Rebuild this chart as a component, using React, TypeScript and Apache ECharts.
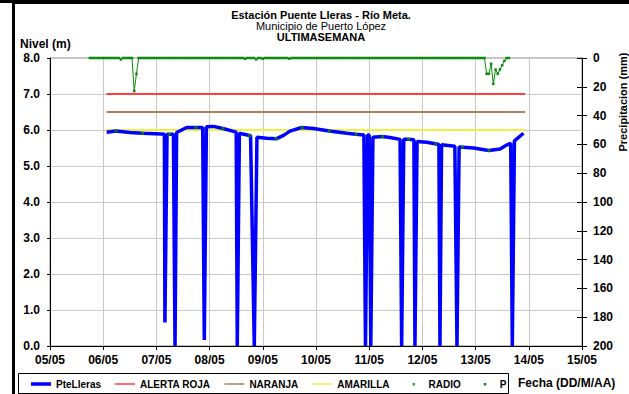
import React, { useEffect, useRef } from "react";
import * as echarts from "echarts";

// ---- data (time in days after 05/05 00:00) ----
const xTickLabels = ["05/05", "06/05", "07/05", "08/05", "09/05", "10/05", "11/05", "12/05", "13/05", "14/05", "15/05"];

const pteLleras: [number, number][] = [
  [1.065, 5.94], [1.24, 5.97], [1.5, 5.93], [1.74, 5.91], [2.1, 5.89], [2.15, 5.88], [2.16, 0.65], [2.2, 5.88],
  [2.32, 5.88], [2.35, 0], [2.38, 5.93], [2.57, 6.07], [2.74, 6.07], [2.87, 6.07], [2.9, 0.17], [2.94, 6.09],
  [3.07, 6.1], [3.25, 6.04], [3.5, 5.94], [3.52, 0], [3.56, 5.91], [3.77, 5.84], [3.84, 0], [3.89, 5.8],
  [4.07, 5.77], [4.26, 5.76], [4.39, 5.85], [4.51, 5.97], [4.73, 6.07], [4.95, 6.04], [5.25, 5.97], [5.58, 5.91],
  [5.75, 5.88], [5.9, 5.86], [5.93, 0], [5.97, 5.86], [6.0, 5.86], [6.03, 0], [6.07, 5.8], [6.25, 5.82],
  [6.39, 5.79], [6.58, 5.74], [6.61, 0], [6.65, 5.74], [6.73, 5.74], [6.84, 5.73], [6.86, 0], [6.9, 5.68],
  [7.08, 5.66], [7.27, 5.61], [7.31, 5.6], [7.33, 0], [7.36, 5.59], [7.61, 5.55], [7.65, 0], [7.69, 5.53],
  [7.96, 5.5], [8.25, 5.43], [8.46, 5.47], [8.58, 5.58], [8.66, 5.63], [8.69, 0], [8.73, 5.7], [8.9, 5.91],
];

const radio: [number, number][] = [
  [1.24, 5.97], [1.74, 5.91], [2.24, 5.88], [2.74, 6.07], [3.25, 6.04], [3.75, 5.84], [4.25, 5.76], [4.74, 6.07],
  [5.25, 5.97], [5.75, 5.88], [6.25, 5.82], [6.74, 5.74], [7.25, 5.61], [7.75, 5.52], [8.25, 5.43],
];

const alertStart = 1.06;
const alertEnd = 8.93;
const alertaRoja: [number, number][] = [[alertStart, 7.0], [alertEnd, 7.0]];
const naranja: [number, number][] = [[alertStart, 6.5], [alertEnd, 6.5]];
const amarilla: [number, number][] = [[alertStart, 6.0], [alertEnd, 6.0]];

// hourly precipitation (mm) starting 05/05 18:00
const pStartDay = 0.75;
const pStepDays = 1 / 24;
const pHourly: number[] = [
  // 05/05 18h-23h
  0, 0, 0, 0, 0, 0,
  // 06/05
  0, 0, 0, 0, 0, 0, 0, 0, 1, 0, 0, 0, 0, 0, 23, 11, 0, 0, 0, 0, 0, 0, 0, 0,
  // 07/05
  0, 0, 0, 0, 0, 0, 0, 0, 0, 0, 0, 0, 0, 0, 0, 0, 0, 0, 0, 0, 0, 0, 0, 0,
  // 08/05
  0, 0, 0, 0, 0, 0, 0, 0, 0, 0, 0, 0, 0, 0, 0, 0, 0.5, 0, 0, 0, 0, 1, 0, 0,
  // 09/05
  0.5, 0, 0, 0, 0, 0, 0, 0, 0, 0, 0, 0, 0.5, 0, 0, 0, 0, 0, 0, 0, 0, 0, 0, 0,
  // 10/05
  0, 0, 0, 0, 0, 0, 0, 0, 0, 0, 0, 0, 0, 0, 0, 0, 0, 0, 0, 0, 0, 0, 0, 0,
  // 11/05
  0, 0, 0, 0, 0, 0, 0, 0, 0, 0, 0, 0, 0, 0, 0, 0, 0, 0, 0, 0, 0, 0, 0, 0,
  // 12/05
  0, 0, 0, 0, 0, 0, 0, 0, 0, 0, 0, 0, 0, 0, 0, 0, 0, 0, 0, 0, 0, 0, 0, 0,
  // 13/05 0h-15h
  0, 0, 0, 0, 0, 11, 11, 4, 18, 8, 11, 8, 5, 2, 0, 0,
];

const FONT = "'Liberation Sans', Arial, sans-serif";
const dotIcon = "path://M0,0h0.01v0.01h-0.01z M9,3h2.5v2.5h-2.5z M20,8h-0.01v-0.01h0.01z";
const thickIcon = "path://M0,0h0.01v0.01h-0.01z M0,2.2h20v3.6h-20z M20,8h-0.01v-0.01h0.01z";
const thinIcon = "path://M0,0h0.01v0.01h-0.01z M0,3.3h20v1.4h-20z M20,8h-0.01v-0.01h0.01z";

export default function App() {
  const ref = useRef<HTMLDivElement>(null);
  useEffect(() => {
    if (!ref.current) return;
    const chart = echarts.init(ref.current, undefined, { renderer: "svg" });
    const pData = pHourly.map((v, i) => [pStartDay + i * pStepDays, v]);
    const green = "#0a8a0a";
    chart.setOption({
      animation: false,
      backgroundColor: "#ffffff",
      textStyle: { fontFamily: FONT },
      title: [
        { text: "Estación Puente Lleras - Río Meta.", left: 316, top: 4, textAlign: "center",
          textStyle: { fontSize: 11, fontWeight: "bold", color: "#000", fontFamily: FONT } },
        { text: "Municipio de Puerto López", left: 316, top: 15, textAlign: "center",
          textStyle: { fontSize: 11, fontWeight: "normal", color: "#000", fontFamily: FONT } },
        { text: "ULTIMASEMANA", left: 316, top: 26, textAlign: "center",
          textStyle: { fontSize: 11, fontWeight: "bold", color: "#000", fontFamily: FONT } },
      ],
      grid: { left: 50, right: 47, top: 58, bottom: 48, show: true, borderColor: "#888", borderWidth: 1, backgroundColor: "transparent" },
      legend: {
        left: 31, top: 379, padding: 0, itemWidth: 20, itemHeight: 8, itemGap: 14, selectedMode: false,
        textStyle: { fontSize: 10, fontWeight: "bold", color: "#000", fontFamily: FONT },
        data: [
          { name: "PteLleras", icon: thickIcon, itemStyle: { color: "#0000ff" } },
          { name: "ALERTA ROJA", icon: thinIcon, itemStyle: { color: "#ff4040" } },
          { name: "NARANJA", icon: thinIcon, itemStyle: { color: "#b08060" } },
          { name: "AMARILLA", icon: thinIcon, itemStyle: { color: "#f0f040" } },
          { name: "RADIO", icon: dotIcon, itemStyle: { color: green } },
          { name: "P", icon: dotIcon, itemStyle: { color: green } },
        ],
      },
      xAxis: {
        type: "value", min: 0, max: 10, interval: 1,
        axisLine: { lineStyle: { color: "#000", width: 1 } },
        axisTick: { show: true, inside: false, length: 4, lineStyle: { color: "#000" } },
        axisLabel: { formatter: (v: number) => xTickLabels[Math.round(v)] ?? "", fontSize: 12, fontWeight: "bold", color: "#000", margin: 8, fontFamily: FONT },
        splitLine: { show: true, lineStyle: { color: "#c8c8c8", width: 1 } },
      },
      yAxis: [
        {
          type: "value", min: 0, max: 8, interval: 1, position: "left",
          axisLine: { show: true, lineStyle: { color: "#000", width: 1 } },
          axisTick: { show: true, inside: false, length: 3, lineStyle: { color: "#000" } },
          axisLabel: { formatter: (v: number) => v.toFixed(1), fontSize: 12, fontWeight: "bold", color: "#000", margin: 10, fontFamily: FONT },
          splitLine: { show: true, lineStyle: { color: "#c8c8c8", width: 1 } },
        },
        {
          type: "value", min: 0, max: 200, interval: 20, position: "right", inverse: true,
          axisLine: { show: true, lineStyle: { color: "#000", width: 1 } },
          axisTick: { show: true, inside: false, length: 5, lineStyle: { color: "#000" } },
          axisLabel: { fontSize: 12, fontWeight: "bold", color: "#000", margin: 11, fontFamily: FONT },
          splitLine: { show: false },
        },
        {
          type: "value", min: 0, max: 200, interval: 20, position: "right", inverse: true,
          axisLine: { show: false },
          axisTick: { show: true, inside: true, length: 5, lineStyle: { color: "#000" } },
          axisLabel: { show: false },
          splitLine: { show: false },
        },
      ],
      graphic: [
        { type: "rect", shape: { x: 13.5, y: 2.5, width: 640, height: 420 }, style: { fill: "none", stroke: "#000", lineWidth: 3 }, silent: true },
        { type: "rect", shape: { x: 0, y: 0, width: 629, height: 3 }, style: { fill: "#000" }, silent: true },
        { type: "rect", shape: { x: 18.5, y: 373.5, width: 490, height: 20 }, style: { fill: "none", stroke: "#000", lineWidth: 1 }, silent: true },
        { type: "text", x: 20, y: 44, style: { text: "Nivel (m)", font: `bold 12px ${FONT}`, fill: "#000", textVerticalAlign: "middle" } },
        { type: "text", x: 518, y: 383, style: { text: "Fecha (DD/M/AA)", font: `bold 12px ${FONT}`, fill: "#000", textVerticalAlign: "middle" } },
        { type: "text", x: 623, y: 102, rotation: Math.PI / 2, style: { text: "Precipitacion (mm)", font: `bold 11px ${FONT}`, fill: "#000", textAlign: "center", textVerticalAlign: "middle" } },
      ],
      series: [
        { name: "PteLleras", type: "line", data: pteLleras, symbol: "none", lineStyle: { color: "#0000ff", width: 3.5 }, itemStyle: { color: "#0000ff" }, z: 3 },
        { name: "ALERTA ROJA", type: "line", data: alertaRoja, symbol: "none", lineStyle: { color: "#ff4040", width: 2 }, itemStyle: { color: "#ff4040" }, z: 2 },
        { name: "NARANJA", type: "line", data: naranja, symbol: "none", lineStyle: { color: "#b08060", width: 2 }, itemStyle: { color: "#b08060" }, z: 2 },
        { name: "AMARILLA", type: "line", data: amarilla, symbol: "none", lineStyle: { color: "#f0f040", width: 2 }, itemStyle: { color: "#f0f040" }, z: 2 },
        { name: "RADIO", type: "scatter", data: radio, symbol: "rect", symbolSize: 3, itemStyle: { color: green }, z: 4 },
        { name: "P", type: "line", yAxisIndex: 1, data: pData, symbol: "rect", symbolSize: 2.5, showSymbol: true, showAllSymbol: true,
          lineStyle: { color: green, width: 1 }, itemStyle: { color: green }, z: 4 },
      ],
    });
    return () => chart.dispose();
  }, []);
  return <div ref={ref} style={{ position: "fixed", left: 0, top: 0, width: 629, height: 394 }} />;
}
